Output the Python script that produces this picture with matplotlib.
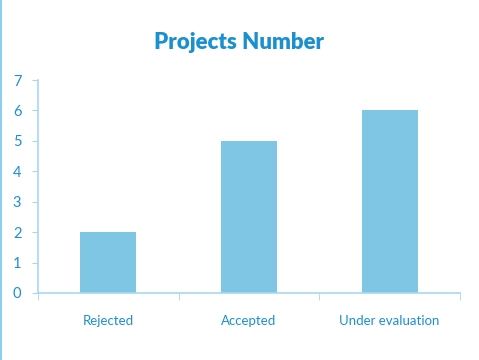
import matplotlib.pyplot as plt
from matplotlib.lines import Line2D

categories = ['Rejected', 'Accepted', 'Under evaluation']
values = [2, 5, 6]
yticks = [0, 1, 2, 3, 4, 5, 6, 7]

bar_color = '#7fc6e4'
text_color = '#1a90cf'
axis_color = '#a8d8f0'

plt.rcParams['font.family'] = ['Lato', 'DejaVu Sans']

fig = plt.figure(figsize=(4.79, 3.6), dpi=100)
ax = fig.add_axes([38 / 479, 67 / 360, 422 / 479, 213 / 360])

x = list(range(len(categories)))
ax.bar(x, values, width=0.4, color=bar_color, zorder=2)

ax.set_xlim(-0.5, len(categories) - 0.5)
ax.set_ylim(0, 7)
ax.set_yticks(yticks)
ax.set_xticks(x)
ax.set_xticklabels(categories)
ax.set_xticks([i - 0.5 for i in range(len(categories) + 1)], minor=True)

ax.tick_params(axis='x', which='major', length=0, pad=16, labelsize=9.5, labelcolor=text_color)
ax.tick_params(axis='x', which='minor', length=5, color=axis_color, direction='out')
ax.tick_params(axis='y', length=4, color=axis_color, labelsize=10.5, labelcolor=text_color, pad=8)

for side in ['top', 'right']:
    ax.spines[side].set_visible(False)
for side in ['left', 'bottom']:
    ax.spines[side].set_color(axis_color)
    ax.spines[side].set_linewidth(1.2)

fig.text(0.5, 0.882, 'Projects Number', ha='center', va='center',
         fontsize=16, fontweight='heavy', color=text_color)

# thin blue line down the left edge
fig.add_artist(Line2D([0.003, 0.003], [0, 1], transform=fig.transFigure,
                      color='#8ccdf0', linewidth=1.5))

fig.savefig('out.png', dpi=100)
